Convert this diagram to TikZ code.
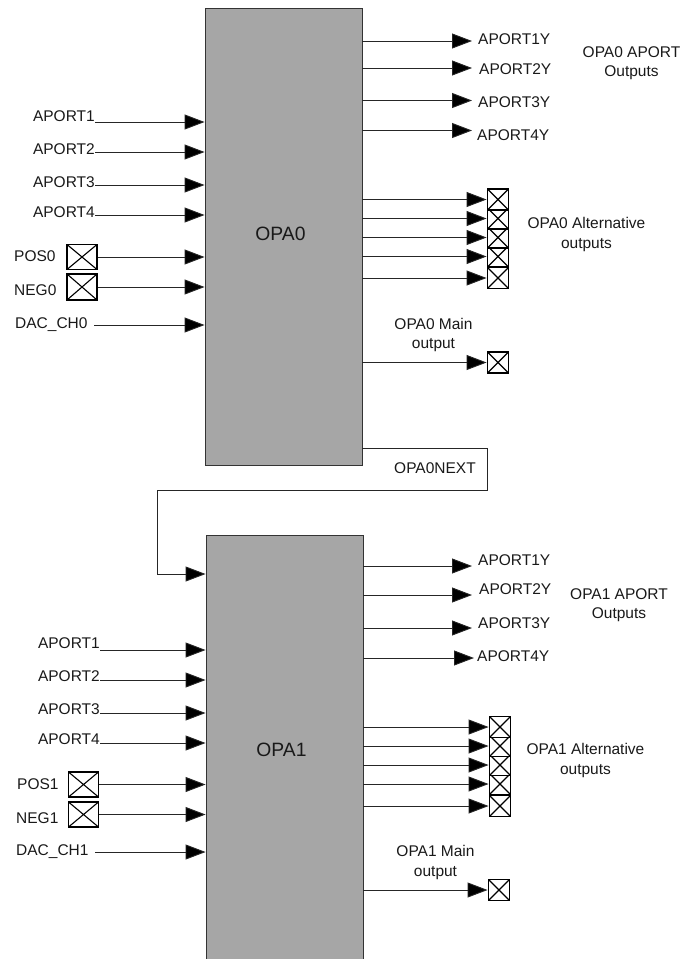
\documentclass[tikz,border=0pt]{standalone}
\usepackage{fontspec}
\setmainfont{Liberation Sans}
\usetikzlibrary{arrows.meta,calc}
\definecolor{blockgrey}{HTML}{A6A6A6}
\tikzset{
  block/.style={draw=black!80,line width=0.9pt,fill=blockgrey,minimum width=157pt,inner sep=0pt},
  blocktext/.style={inner sep=0pt,font=\fontsize{19.3}{22}\selectfont,text=black!90},
  lbl/.style={inner sep=0pt,font=\fontsize{15.5}{18}\selectfont,text=black!90},
  txt/.style={inner sep=0pt,align=center,font=\fontsize{15.5}{19.3}\selectfont,text=black!90},
  pad/.style={draw=black,line width=1.9pt,fill=white,inner sep=0pt,
    path picture={\draw[line width=1.1pt] (path picture bounding box.north west)--(path picture bounding box.south east)
      (path picture bounding box.north east)--(path picture bounding box.south west);}},
  sig/.style={draw=black!85,line width=0.9pt,-{Triangle[length=20pt,width=15pt,fill=black]}},
  wire/.style={draw=black!85,line width=0.9pt}
}
\newcommand{\padat}[5]{\node[pad,minimum width=#4pt,minimum height=#5pt] (#1) at (#2,#3) {};}
\begin{document}
\begin{tikzpicture}[x=1pt,y=-1pt]
\useasboundingbox (0,0) rectangle (683,959);
\path[clip] (0,0) rectangle (683,959);
% blocks
\node[block,minimum height=457pt] (opa0) at (283.5,236.5) {};
\node[block,minimum height=440pt] (opa1) at (284.5,755) {};
\node[blocktext] (t0) at (280.5,234) {OPA0};
\node[blocktext] (t1) at (281.5,750) {OPA1};
% OPA0 inputs
\node[lbl,anchor=east] (a1) at (95,116) {APORT1};
\node[lbl,anchor=east] (a2) at (95,149) {APORT2};
\node[lbl,anchor=east] (a3) at (95,182) {APORT3};
\node[lbl,anchor=east] (a4) at (95,212) {APORT4};
\coordinate (a1s) at (95,122); \coordinate (a2s) at (95,152);
\coordinate (a3s) at (95,185); \coordinate (a4s) at (95,215);
\foreach \n in {a1s,a2s,a3s,a4s} \draw[sig] (\n) -- (\n -| opa0.west);
\node[lbl,anchor=west] (pl) at (14,256) {POS0};
\node[lbl,anchor=west] (nl) at (14,290) {NEG0};
\padat{p0}{82}{257}{30}{25}
\padat{n0}{82}{287}{30}{26}
\draw[sig] (p0.east) -- (p0.east -| opa0.west);
\draw[sig] (n0.east) -- (n0.east -| opa0.west);
\node[lbl,anchor=west] (d0) at (15,325) {DAC\_CH0};
\coordinate (d0s) at (94,325);
\draw[sig] (d0s) -- (d0s -| opa0.west);
% OPA0 aport outputs
\node[lbl,anchor=west] (y1) at (478,39) {APORT1Y};
\node[lbl,anchor=west] (y2) at (479,69) {APORT2Y};
\node[lbl,anchor=west] (y3) at (478,102) {APORT3Y};
\node[lbl,anchor=west] (y4) at (477,135) {APORT4Y};
\coordinate (y1e) at (472,41); \coordinate (y2e) at (472,68);
\coordinate (y3e) at (472,100.5); \coordinate (y4e) at (472,130.5);
\foreach \n in {y1e,y2e,y3e,y4e} \draw[sig] (\n -| opa0.east) -- (\n);
\node[txt] (aout0) at (631.5,63.5) {OPA0 APORT\\Outputs};
% OPA0 alternative outputs
\padat{q5}{498}{278}{21}{21}
\padat{q4}{498}{256.5}{21}{21}
\padat{q3}{498}{237.5}{21}{21}
\padat{q2}{498}{218.5}{21}{21}
\padat{q1}{498}{199.5}{21}{21}
\foreach \n in {q1,q2,q3,q4,q5} \draw[sig] (\n.west -| opa0.east) -- (\n.west);
\node[txt] (alt0) at (586.5,234.5) {OPA0 Alternative\\outputs};
% OPA0 main output
\padat{m0}{498}{362.5}{21}{21}
\draw[sig] (m0.west -| opa0.east) -- (m0.west);
\node[txt] (mt0) at (433.5,335) {OPA0 Main\\output};
% OPA0NEXT
\node[lbl] (nx) at (435,468) {OPA0NEXT};
\coordinate (nxa) at (362,448); \coordinate (nxb) at (487,448);
\coordinate (nxc) at (487,490); \coordinate (nxd) at (157,490);
\coordinate (nxe) at (157,574);
\draw[wire] (nxa -| opa0.east) -- (nxb) -- (nxc) -- (nxd) -- (nxe);
\draw[sig] (nxe) -- (nxe -| opa1.west);
% OPA1 inputs
\node[lbl,anchor=east] (b1) at (100,643) {APORT1};
\node[lbl,anchor=east] (b2) at (100,676) {APORT2};
\node[lbl,anchor=east] (b3) at (100,709) {APORT3};
\node[lbl,anchor=east] (b4) at (100,739) {APORT4};
\coordinate (b1s) at (100,650); \coordinate (b2s) at (100,680);
\coordinate (b3s) at (100,713); \coordinate (b4s) at (100,743);
\foreach \n in {b1s,b2s,b3s,b4s} \draw[sig] (\n) -- (\n -| opa1.west);
\node[lbl,anchor=west] (pl1) at (17,784) {POS1};
\node[lbl,anchor=west] (nl1) at (16,818) {NEG1};
\padat{p1}{83.5}{784.5}{30}{25}
\padat{n1}{83.5}{814.5}{30}{25}
\draw[sig] (p1.east) -- (p1.east -| opa1.west);
\draw[sig] (n1.east) -- (n1.east -| opa1.west);
\node[lbl,anchor=west] (d1) at (16,852) {DAC\_CH1};
\coordinate (d1s) at (95,852);
\draw[sig] (d1s) -- (d1s -| opa1.west);
% OPA1 aport outputs
\node[lbl,anchor=west] (z1) at (478,560) {APORT1Y};
\node[lbl,anchor=west] (z2) at (479,589) {APORT2Y};
\node[lbl,anchor=west] (z3) at (478,623) {APORT3Y};
\node[lbl,anchor=west] (z4) at (477,656) {APORT4Y};
\coordinate (z1e) at (472,566); \coordinate (z2e) at (472,595);
\coordinate (z3e) at (472,628); \coordinate (z4e) at (474,658);
\foreach \n in {z1e,z2e,z3e,z4e} \draw[sig] (\n -| opa1.east) -- (\n);
\node[txt] (aout1) at (619,605.5) {OPA1 APORT\\Outputs};
% OPA1 alternative outputs
\padat{r5}{500}{806}{21}{21}
\padat{r4}{500}{784}{21}{21}
\padat{r3}{500}{765}{21}{21}
\padat{r2}{500}{746}{21}{21}
\padat{r1}{500}{727}{21}{21}
\foreach \n in {r1,r2,r3,r4,r5} \draw[sig] (\n.west -| opa1.east) -- (\n.west);
\node[txt] (alt1) at (585.5,760.5) {OPA1 Alternative\\outputs};
% OPA1 main output
\padat{m1}{499}{890}{21}{21}
\draw[sig] (m1.west -| opa1.east) -- (m1.west);
\node[txt] (mt1) at (435.5,862.5) {OPA1 Main\\output};
\end{tikzpicture}
\end{document}
